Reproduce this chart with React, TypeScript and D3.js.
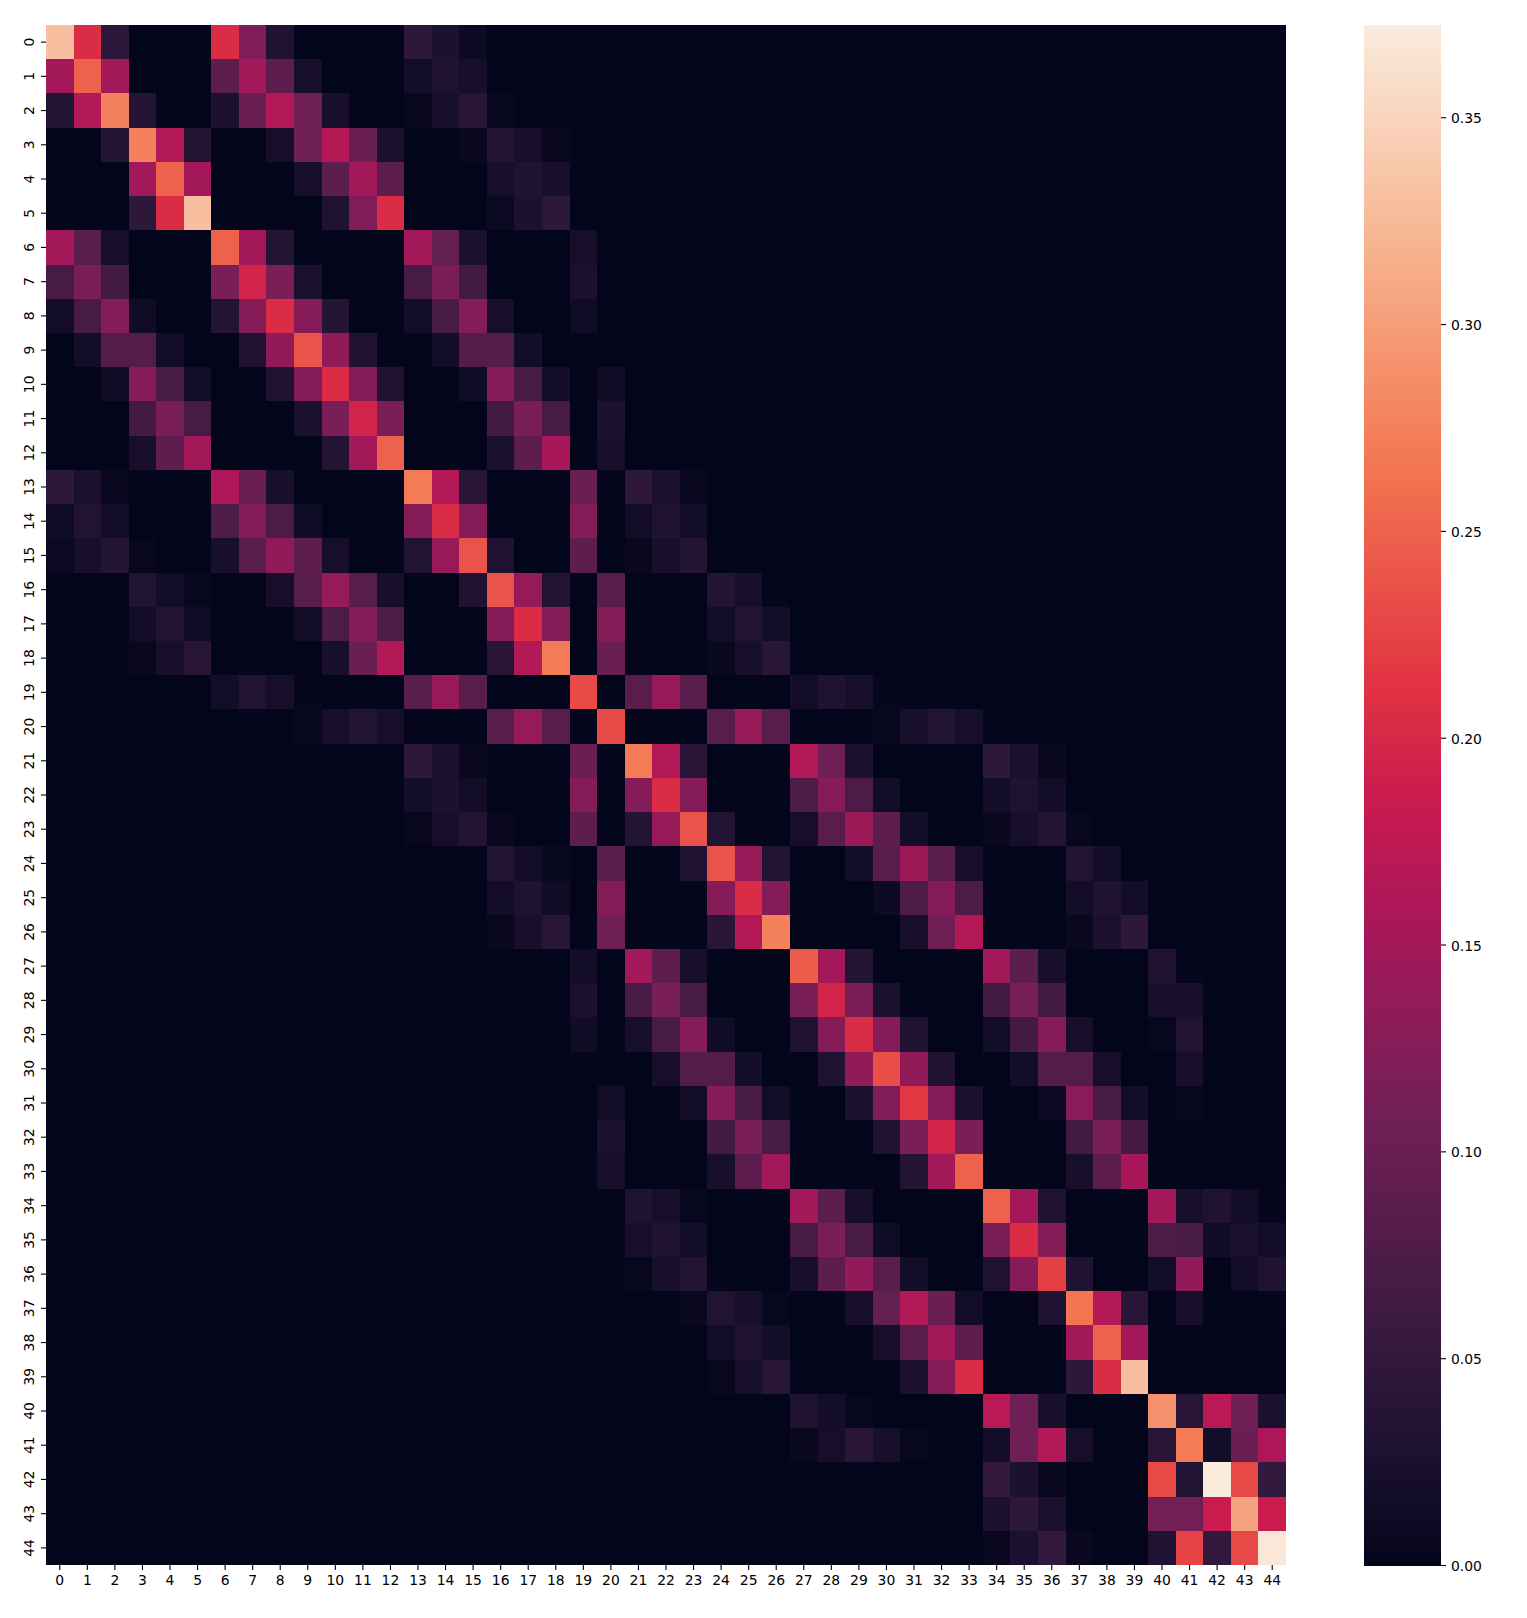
import React, { useRef, useEffect } from 'react'
import { select, range, scaleBand, scaleLinear, axisBottom, axisLeft, axisRight } from 'd3'

const WIDTH = 1527
const HEIGHT = 1618

const indices = range(45)
const colorbarTicks = [0, 0.05, 0.1, 0.15, 0.2, 0.25, 0.3, 0.35]
const vmax = 0.3723

// rocket colormap, sampled
const rocketStops = [0, 0.0714, 0.1429, 0.2857, 0.4286, 0.5, 0.5714, 0.7143, 0.8571, 1]
const rocketColors = ['#03051a', '#1c1130', '#35193e', '#701f57', '#ad1759', '#cb1b4f', '#e13342', '#f37651', '#f6b48f', '#faebdd']

// non zero cells per row as [column, value * 1000]
const rows: [number, number][][] = [
  [[0,330],[1,205],[2,45],[6,205],[7,120],[8,30],[13,45],[14,28],[15,10]],
  [[0,150],[1,250],[2,150],[6,90],[7,150],[8,90],[9,20],[13,18],[14,30],[15,20]],
  [[0,35],[1,165],[2,275],[3,35],[6,25],[7,100],[8,165],[9,105],[10,22],[13,6],[14,22],[15,40],[16,4]],
  [[2,35],[3,275],[4,165],[5,35],[8,20],[9,105],[10,165],[11,100],[12,25],[15,6],[16,35],[17,20],[18,5]],
  [[3,150],[4,250],[5,150],[9,20],[10,90],[11,150],[12,90],[16,20],[17,30],[18,20]],
  [[3,45],[4,205],[5,330],[10,30],[11,120],[12,205],[16,10],[17,28],[18,45]],
  [[0,150],[1,85],[2,20],[6,250],[7,150],[8,35],[13,150],[14,95],[15,25],[19,20]],
  [[0,70],[1,115],[2,65],[6,115],[7,195],[8,115],[9,25],[13,70],[14,115],[15,65],[19,25]],
  [[0,18],[1,70],[2,125],[3,15],[6,35],[7,125],[8,205],[9,125],[10,35],[13,18],[14,70],[15,125],[16,20],[19,15]],
  [[1,17],[2,80],[3,80],[4,18],[7,30],[8,135],[9,238],[10,135],[11,30],[14,18],[15,80],[16,80],[17,18],[18,1],[19,2],[20,2]],
  [[2,15],[3,125],[4,70],[5,18],[8,30],[9,125],[10,205],[11,125],[12,30],[15,15],[16,125],[17,70],[18,18],[20,15]],
  [[3,65],[4,115],[5,70],[9,25],[10,115],[11,195],[12,115],[16,65],[17,115],[18,70],[20,25]],
  [[3,22],[4,90],[5,150],[10,35],[11,150],[12,250],[16,25],[17,90],[18,155],[20,22]],
  [[0,45],[1,25],[2,6],[6,160],[7,100],[8,22],[13,270],[14,165],[15,40],[19,100],[21,45],[22,25],[23,6]],
  [[0,15],[1,32],[2,18],[6,75],[7,125],[8,75],[9,15],[13,125],[14,205],[15,125],[19,125],[21,16],[22,30],[23,18]],
  [[0,8],[1,22],[2,35],[3,5],[6,22],[7,85],[8,135],[9,90],[10,20],[13,32],[14,140],[15,238],[16,30],[19,90],[21,6],[22,22],[23,35]],
  [[3,32],[4,18],[5,4],[8,20],[9,85],[10,140],[11,85],[12,22],[15,30],[16,238],[17,140],[18,32],[20,85],[24,35],[25,20],[26,3]],
  [[3,18],[4,32],[5,15],[9,16],[10,75],[11,125],[12,75],[16,125],[17,205],[18,125],[20,125],[24,18],[25,33],[26,18]],
  [[3,6],[4,22],[5,40],[10,22],[11,100],[12,165],[16,40],[17,165],[18,270],[20,100],[24,6],[25,22],[26,40],[33,2]],
  [[6,18],[7,32],[8,20],[9,3],[13,85],[14,140],[15,85],[19,232],[21,85],[22,140],[23,85],[27,18],[28,30],[29,20],[30,3],[31,2]],
  [[9,4],[10,20],[11,32],[12,20],[13,1],[16,85],[17,140],[18,85],[20,232],[24,85],[25,140],[26,85],[30,4],[31,20],[32,32],[33,20]],
  [[6,2],[7,1],[13,45],[14,25],[15,6],[19,100],[21,270],[22,165],[23,40],[27,165],[28,105],[29,25],[34,45],[35,25],[36,6],[40,2]],
  [[13,18],[14,28],[15,16],[19,125],[21,125],[22,205],[23,125],[27,75],[28,125],[29,75],[30,16],[34,18],[35,30],[36,18]],
  [[13,5],[14,20],[15,33],[16,5],[19,90],[21,35],[22,140],[23,238],[24,32],[27,20],[28,85],[29,145],[30,90],[31,18],[34,6],[35,20],[36,35],[37,4]],
  [[16,35],[17,18],[18,4],[20,85],[23,30],[24,238],[25,140],[26,32],[29,17],[30,85],[31,145],[32,85],[33,20],[37,32],[38,18],[39,2]],
  [[16,18],[17,30],[18,15],[20,125],[24,125],[25,205],[26,125],[30,12],[31,75],[32,125],[33,75],[37,18],[38,30],[39,18]],
  [[16,6],[17,22],[18,40],[20,105],[24,40],[25,165],[26,275],[31,22],[32,105],[33,165],[37,6],[38,25],[39,45]],
  [[19,18],[21,150],[22,90],[23,20],[27,245],[28,150],[29,35],[34,150],[35,90],[36,22],[40,30],[41,3]],
  [[19,25],[21,70],[22,115],[23,70],[27,115],[28,195],[29,115],[30,25],[34,65],[35,115],[36,65],[40,22],[41,22]],
  [[19,15],[21,20],[22,70],[23,125],[24,15],[27,30],[28,125],[29,205],[30,125],[31,30],[34,18],[35,65],[36,125],[37,20],[40,4],[41,33]],
  [[18,1],[19,2],[20,2],[22,20],[23,80],[24,80],[25,18],[28,30],[29,135],[30,235],[31,135],[32,30],[35,18],[36,80],[37,80],[38,20],[41,20]],
  [[20,16],[23,16],[24,125],[25,70],[26,16],[29,25],[30,120],[31,215],[32,125],[33,25],[36,12],[37,130],[38,70],[39,18],[41,4]],
  [[20,25],[24,65],[25,115],[26,70],[30,30],[31,115],[32,195],[33,115],[37,65],[38,115],[39,65]],
  [[20,22],[24,22],[25,90],[26,150],[31,35],[32,150],[33,250],[37,22],[38,90],[39,155]],
  [[21,30],[22,20],[23,4],[27,150],[28,90],[29,22],[34,250],[35,150],[36,30],[40,150],[41,20],[42,30],[43,18],[44,3]],
  [[21,20],[22,30],[23,18],[27,70],[28,115],[29,70],[30,15],[34,115],[35,205],[36,125],[40,75],[41,70],[42,14],[43,25],[44,18]],
  [[21,4],[22,22],[23,33],[27,22],[28,90],[29,135],[30,85],[31,17],[34,30],[35,125],[36,222],[37,30],[40,18],[41,135],[42,1],[43,18],[44,30]],
  [[23,6],[24,32],[25,20],[26,4],[29,20],[30,95],[31,165],[32,100],[33,18],[35,1],[36,30],[37,265],[38,165],[39,40],[41,20],[44,2]],
  [[24,18],[25,30],[26,18],[30,20],[31,85],[32,150],[33,90],[37,150],[38,250],[39,150]],
  [[24,5],[25,22],[26,40],[31,28],[32,125],[33,205],[37,45],[38,205],[39,330]],
  [[22,1],[27,30],[28,18],[29,4],[34,170],[35,105],[36,22],[40,288],[41,40],[42,170],[43,105],[44,25]],
  [[27,6],[28,20],[29,40],[30,22],[31,4],[34,18],[35,105],[36,165],[37,20],[40,40],[41,270],[42,18],[43,100],[44,160]],
  [[34,50],[35,28],[36,6],[40,230],[41,32],[42,372],[43,230],[44,50]],
  [[28,1],[34,25],[35,45],[36,25],[40,110],[41,110],[42,185],[43,305],[44,185]],
  [[29,1],[34,6],[35,25],[36,50],[37,6],[40,30],[41,225],[42,50],[43,230],[44,368]],
]

const App = () => {
  const svgRef = useRef<SVGSVGElement>(null)

  useEffect(() => {
    const svg = select(svgRef.current)
    svg.selectAll('*').remove()

    const x = scaleBand<number>().domain(indices).range([46, 1286])
    const y = scaleBand<number>().domain(indices).range([25, 1565])
    const color = scaleLinear<string>()
      .domain(rocketStops.map((s) => s * vmax))
      .range(rocketColors)
      .clamp(true)

    // every cell, zero ones too
    const cells = rows.flatMap((row, r) =>
      indices.map((c) => {
        const hit = row.find((d) => d[0] === c)
        return { r, c, value: hit ? hit[1] / 1000 : 0 }
      })
    )

    svg.append('g')
      .attr('shape-rendering', 'crispEdges')
      .selectAll('rect')
      .data(cells)
      .join('rect')
      .attr('x', (d) => x(d.c))
      .attr('y', (d) => y(d.r))
      .attr('width', x.bandwidth())
      .attr('height', y.bandwidth())
      .attr('fill', (d) => color(d.value))

    const styleAxis = (g) => {
      g.select('.domain').remove()
      g.selectAll('line').attr('stroke', '#000').attr('stroke-width', 1.1)
      g.selectAll('text')
        .attr('fill', '#000')
        .attr('font-family', '"DejaVu Sans"')
        .attr('font-size', 13.9)
    }

    svg.append('g')
      .attr('transform', 'translate(0,1565)')
      .call(axisBottom(x).tickSize(5).tickPadding(5.5))
      .call(styleAxis)

    svg.append('g')
      .attr('transform', 'translate(46,0)')
      .call(axisLeft(y).tickSize(5).tickPadding(0))
      .call(styleAxis)
      .call((g) =>
        g.selectAll('text')
          .attr('text-anchor', 'middle')
          .attr('dy', 0)
          .attr('x', 0)
          .attr('transform', 'translate(-12.5,0) rotate(-90)')
      )

    // colorbar
    const barScale = scaleLinear().domain([0, vmax]).range([1565, 25])
    const steps = range(256)
    svg.append('g')
      .attr('shape-rendering', 'crispEdges')
      .selectAll('rect')
      .data(steps)
      .join('rect')
      .attr('x', 1364)
      .attr('width', 77)
      .attr('y', (i) => barScale(((i + 1) / 256) * vmax))
      .attr('height', (barScale(0) - barScale(vmax)) / 256 + 0.5)
      .attr('fill', (i) => color(((i + 0.5) / 256) * vmax))

    svg.append('g')
      .attr('transform', 'translate(1441,0)')
      .call(
        axisRight(barScale)
          .tickValues(colorbarTicks)
          .tickFormat((d) => Number(d).toFixed(2))
          .tickSize(5)
          .tickPadding(5)
      )
      .call(styleAxis)
      .call((g) => g.selectAll('text').attr('dy', '0.4em'))
  }, [])

  return (
    <svg
      ref={svgRef}
      width={WIDTH}
      height={HEIGHT}
      style={{ position: 'absolute', left: 0, top: 0, background: '#fff' }}
    />
  )
}

export default App
